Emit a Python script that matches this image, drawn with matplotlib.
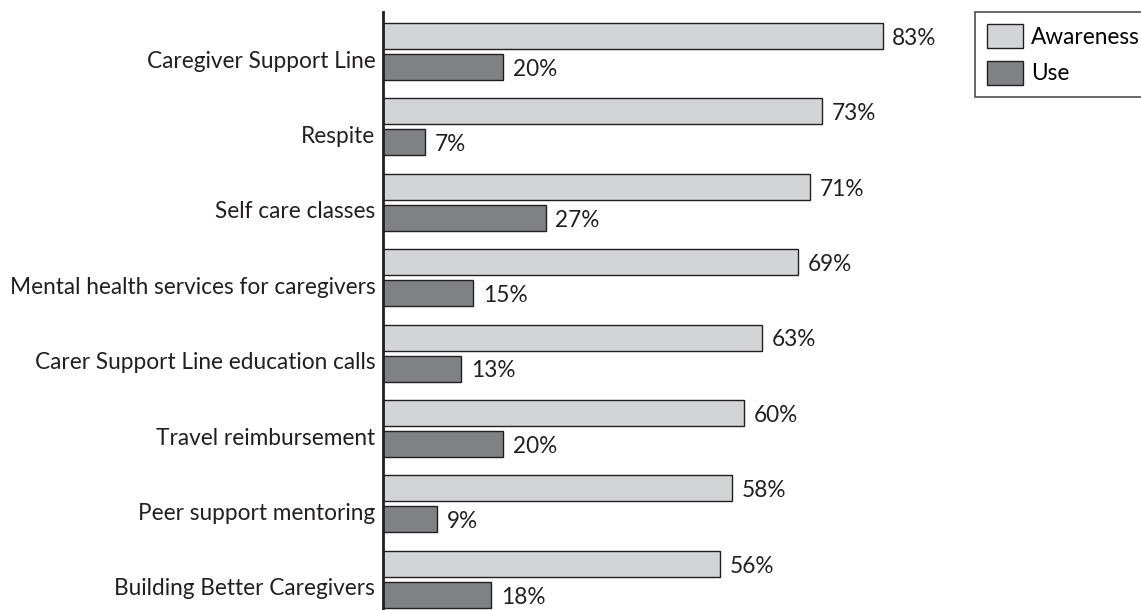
import matplotlib
matplotlib.use("Agg")
import matplotlib.pyplot as plt
import numpy as np

categories = ["Caregiver Support Line", "Respite", "Self care classes",
              "Mental health services for caregivers", "Carer Support Line education calls",
              "Travel reimbursement", "Peer support mentoring", "Building Better Caregivers"]
awareness = [83, 73, 71, 69, 63, 60, 58, 56]
use = [20, 7, 27, 15, 13, 20, 9, 18]

plt.rcParams['font.family'] = ['Lato', 'DejaVu Sans']
FS = 16.3
light = '#d3d4d6'
dark = '#808184'
edge = '#231f20'

fig = plt.figure(figsize=(11.41, 6.10), dpi=100)
W, H = 1141, 610
ax = fig.add_axes([383 / W, 0, 602 / W, 598 / H])

y = np.arange(len(categories))
off = 0.205
h = 0.345
b1 = ax.barh(y - off, awareness, height=h, color=light, edgecolor=edge, linewidth=1.0, label='Awareness')
b2 = ax.barh(y + off, use, height=h, color=dark, edgecolor=edge, linewidth=1.0, label='Use')

for yi, v in zip(y - off, awareness):
    ax.text(v + 1.6, yi + 0.03, f"{v}%", va='center', ha='left', fontsize=FS, color='#231f20')
for yi, v in zip(y + off, use):
    ax.text(v + 1.6, yi + 0.03, f"{v}%", va='center', ha='left', fontsize=FS, color='#231f20')

ax.set_xlim(0, 100)
ax.set_ylim(7.407, -0.524)
ax.set_yticks(y + 0.1)
ax.set_yticklabels(categories, fontsize=FS, color='#231f20')
ax.tick_params(axis='y', length=0, pad=5.5)
ax.set_xticks([])
for s in ['top', 'right', 'bottom']:
    ax.spines[s].set_visible(False)
ax.spines['left'].set_linewidth(2)
ax.spines['left'].set_color(edge)

leg = fig.legend(handles=[b1, b2], loc='upper left', bbox_to_anchor=(975 / W, 1 - 12 / H),
                 fontsize=FS, frameon=True, fancybox=False, edgecolor=edge,
                 handlelength=1.57, handleheight=1.25, handletextpad=0.35,
                 borderpad=0.55, labelspacing=0.55, borderaxespad=0)
leg.get_frame().set_linewidth(1.2)

fig.savefig("out.png", dpi=100)
